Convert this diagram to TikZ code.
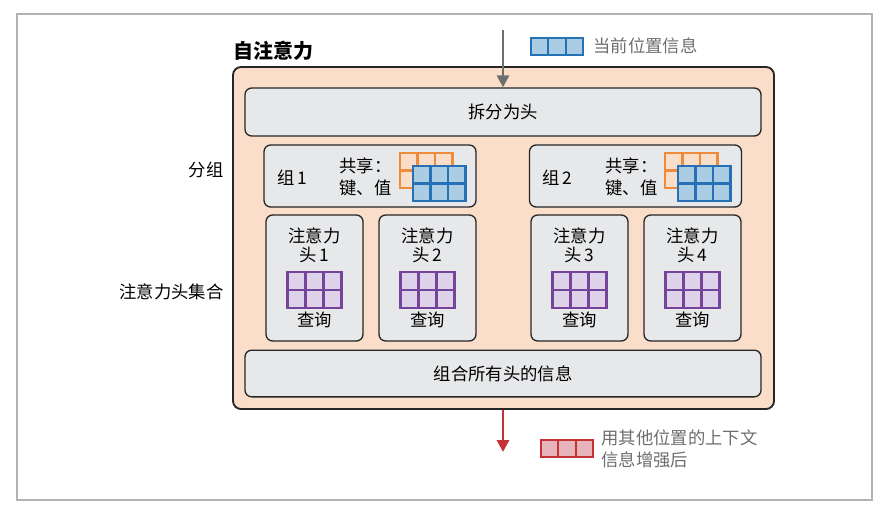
\documentclass[tikz,border=0pt]{standalone}
\usepackage{fontspec}
\setmainfont{Noto Sans CJK SC}
\usetikzlibrary{positioning,arrows.meta}
\definecolor{peach}{RGB}{250,222,202}
\definecolor{boxgray}{RGB}{231,232,234}
\definecolor{kblue}{RGB}{38,112,182}
\definecolor{kbluef}{RGB}{170,205,228}
\definecolor{korange}{RGB}{238,140,60}
\definecolor{kpurple}{RGB}{116,68,154}
\definecolor{kpurplef}{RGB}{222,210,234}
\definecolor{kred}{RGB}{196,50,54}
\definecolor{kredf}{RGB}{230,180,186}
\definecolor{txtgray}{RGB}{110,110,110}
\tikzset{every picture/.style={line width=0.75pt}}
\tikzset{
  box/.style={draw=black!85, fill=boxgray, rounded corners=5pt, line width=1pt, font=\fontsize{13}{16}\selectfont, align=center},
  lbl/.style={font=\fontsize{13}{16}\selectfont, inner sep=0.75pt},
}
% grid of cells: x, y (top left), cols, rows, cell size, draw colour, fill colour
\newcommand{\cellgrid}[7]{%
  \foreach \i in {1,...,#3}{\foreach \j in {1,...,#4}{%
    \draw[draw=#6, fill=#7, line width=1.6pt] ({#1+(\i-1)*#5},{#2+(\j-1)*#5}) rectangle ++(#5,#5);}}}

\begin{document}
\begin{tikzpicture}[x=0.75pt,y=0.75pt,yscale=-1,xscale=1]
\useasboundingbox (0,0) rectangle (889,515);
% frame
\draw[gray!60, line width=1pt] (17,14) rectangle (872,500);

% main box
\node[draw=black!85, fill=peach, rounded corners=6pt, line width=1.4pt, minimum width=405.75pt, minimum height=256.5pt, inner sep=0] (main) at (503.5,238) {};
\node[anchor=south west, font=\fontsize{15}{18}\selectfont\bfseries, inner sep=0.75pt] (title) at (232,62) {自注意力};

% split / combine
\node[box, minimum width=387pt, minimum height=36pt] (split) at (503,112) {拆分为头};
\node[box, minimum width=387pt, minimum height=35pt] (combine) at (503,373.5) {组合所有头的信息};

% groups
\node[box, minimum width=159pt, minimum height=46.5pt] (g1) at (370,176) {};
\node[box, minimum width=159pt, minimum height=46.5pt] (g2) at (635.5,176) {};
\node[lbl, anchor=west] (g1name) at (276,178) {组\,1};
\node[lbl, anchor=west, align=left] (g1share) at (338,177) {共享：\\键、值};
\node[lbl, anchor=west] (g2name) at (541,178) {组\,2};
\node[lbl, anchor=west, align=left] (g2share) at (604,177) {共享：\\键、值};
\cellgrid{400}{153}{3}{2}{17.5}{korange}{peach}
\cellgrid{413}{166}{3}{2}{17.5}{kblue}{kbluef}
\cellgrid{665}{153}{3}{2}{17.5}{korange}{peach}
\cellgrid{678}{166}{3}{2}{17.5}{kblue}{kbluef}

% heads
\foreach \n/\x in {1/314.5,2/427.5,3/579.5,4/692.5}{
  \node[box, minimum width=72.75pt, minimum height=94.5pt] (h\n) at (\x,278) {};
  \node[lbl, align=center] (h\n t) at (\x,245) {注意力\\[-2pt]头\,\n};
  \node[lbl] (h\n q) at (\x,320) {查询};
  \cellgrid{\x-27}{272}{3}{2}{18}{kpurple}{kpurplef}
}

% side labels
\node[lbl, anchor=east] (lgroup) at (225,170) {分组};
\node[lbl, anchor=east] (lheads) at (225,292) {注意力头集合};

% input / output arrows
\coordinate (in) at (503,30);
\coordinate (out) at (503,452);
\draw[txtgray, line width=2.2pt, -{Triangle[length=9pt,width=9pt]}] (in) -- (split.north);
\draw[kred, line width=2.2pt, -{Triangle[length=9pt,width=9pt]}] (main.south -| in) -- (out);

% legends
\cellgrid{531}{38}{3}{1}{17.3}{kblue}{kbluef}
\node[lbl, anchor=west, text=txtgray] (lcur) at (592,46) {当前位置信息};
\cellgrid{541}{440}{3}{1}{17.3}{kred}{kredf}
\node[lbl, anchor=west, align=left, text=txtgray] (lctx) at (600,449) {用其他位置的上下文\\信息增强后};
\end{tikzpicture}
\end{document}
